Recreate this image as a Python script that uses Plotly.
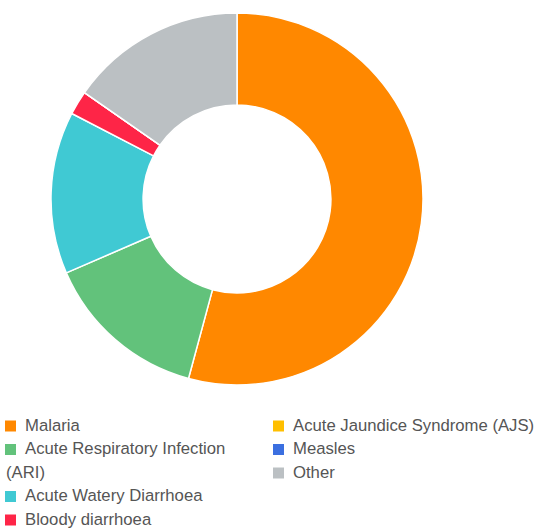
import plotly.graph_objects as go

W, H = 560, 529

# Share of reported cases by disease (percent), in slice order clockwise from 12 o'clock
diseases = ["Malaria", "Acute Respiratory Infection (ARI)", "Acute Watery Diarrhoea",
            "Bloody diarrhoea", "Acute Jaundice Syndrome (AJS)", "Measles", "Other"]
shares = [54.2, 14.3, 14.1, 2.1, 0.0, 0.0, 15.3]
colors = ["#FF8800", "#62C27B", "#40C9D3", "#FE2547", "#FFBF00", "#3B6FE0", "#BBC0C3"]

# Legend layout: two columns, entries listed top to bottom
legend_left = ["Malaria", "Acute Respiratory Infection (ARI)", "Acute Watery Diarrhoea", "Bloody diarrhoea"]
legend_right = ["Acute Jaundice Syndrome (AJS)", "Measles", "Other"]
# Labels too long for their column wrap onto the next line
wrapped = {"Acute Respiratory Infection (ARI)": ("Acute Respiratory Infection", "(ARI)")}

cx, cy, R = 237, 199, 186

fig = go.Figure(go.Pie(
    labels=diseases,
    values=shares,
    marker=dict(colors=colors, line=dict(color="white", width=1.5)),
    hole=0.505,
    sort=False,
    direction="clockwise",
    rotation=0,
    textinfo="none",
    hoverinfo="label+percent",
    domain=dict(x=[(cx - R) / W, (cx + R) / W], y=[1 - (cy + R) / H, 1 - (cy - R) / H]),
))

shapes, annotations = [], []
color_of = dict(zip(diseases, colors))
row_h = 23.5
top_row = 426
font = dict(family="Liberation Sans, Arial, sans-serif", size=16.7, color="#555555")


def add_column(labels, sq_x, text_x):
    row = 0
    for lab in labels:
        y = top_row + row * row_h
        shapes.append(dict(type="rect", xref="paper", yref="paper",
                           x0=sq_x / W, x1=(sq_x + 11) / W,
                           y0=1 - (y + 5.5) / H, y1=1 - (y - 5.5) / H,
                           fillcolor=color_of[lab], line=dict(width=0)))
        lines = wrapped.get(lab, (lab,))
        annotations.append(dict(xref="paper", yref="paper", x=text_x / W, y=1 - (y - 1) / H,
                                xanchor="left", yanchor="middle", showarrow=False,
                                text=lines[0], font=font, borderpad=0))
        for extra in lines[1:]:
            row += 1
            y = top_row + row * row_h
            annotations.append(dict(xref="paper", yref="paper", x=sq_x / W, y=1 - (y - 1) / H,
                                    xanchor="left", yanchor="middle", showarrow=False,
                                    text=extra, font=font, borderpad=0))
        row += 1


add_column(legend_left, 5, 24)
add_column(legend_right, 273, 292)

fig.update_layout(
    width=W, height=H,
    margin=dict(l=0, r=0, t=0, b=0),
    paper_bgcolor="white",
    plot_bgcolor="white",
    showlegend=False,
    shapes=shapes,
    annotations=annotations,
)

fig.write_html("out.html")
